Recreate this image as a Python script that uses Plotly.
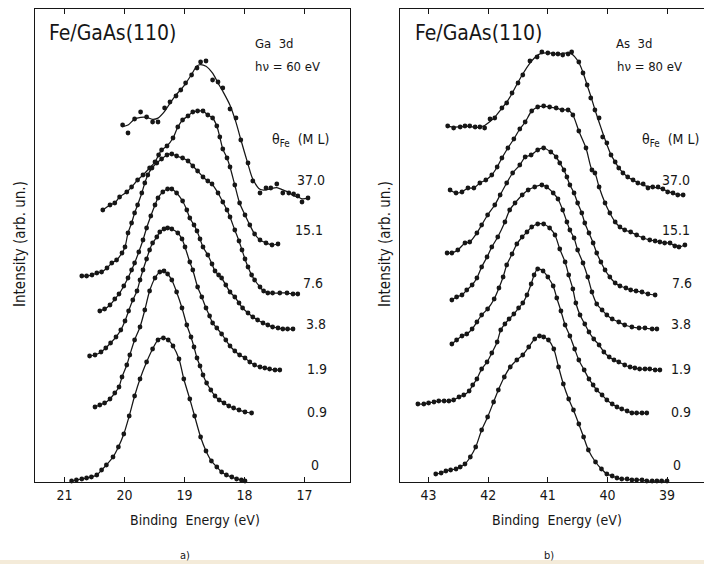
import numpy as np
import plotly.graph_objects as go

# ---------------- Panel a : Ga 3d (hv = 60 eV) ----------------
ga_e_0 = [20.88,20.80,20.71,20.63,20.55,20.46,20.38,20.30,20.19,20.10,20.01,19.92,19.83,19.74,19.63,19.53,19.44,19.35,19.27,19.19,19.09,19.01,18.91,18.83,18.73,18.64,18.55,18.46,18.38,18.30,18.21,18.13,18.05,17.99]
ga_i_0 = [1,2,3,4,5,7,12,17,25,35,48,66,86,103,120,133,142,144,142,136,123,103,83,66,45,31,21,15,10,7,5,3,2,1]

ga_e_09 = [20.49,20.41,20.33,20.24,20.16,20.09,20.04,19.96,19.91,19.83,19.74,19.66,19.58,19.49,19.41,19.34,19.28,19.21,19.13,19.04,18.96,18.89,18.84,18.79,18.74,18.69,18.63,18.56,18.49,18.42,18.34,18.26,18.18,18.09,17.99,17.88]
ga_i_09 = [75,77,79,83,89,95,105,117,127,142,155,172,191,204,210,211,208,202,190,174,157,145,135,124,116,107,99,92,86,82,79,76,74,72,70,69]

ga_e_19 = [20.58,20.49,20.39,20.31,20.23,20.14,20.06,19.99,19.93,19.86,19.79,19.74,19.69,19.63,19.58,19.53,19.46,19.41,19.34,19.28,19.21,19.11,19.04,18.99,18.91,18.86,18.78,18.71,18.64,18.58,18.53,18.46,18.38,18.31,18.24,18.16,18.08,17.99,17.91,17.83,17.74,17.66,17.58,17.49,17.41]
ga_i_19 = [126,127,130,134,139,145,152,161,171,182,191,202,212,223,232,239,245,250,253,254,253,249,243,235,220,212,195,185,174,166,159,154,148,142,136,131,127,124,120,117,115,114,113,112,112]

ga_e_38 = [20.41,20.33,20.24,20.16,20.09,20.01,19.94,19.88,19.83,19.76,19.69,19.63,19.56,19.49,19.44,19.36,19.28,19.21,19.13,19.03,18.96,18.91,18.84,18.79,18.74,18.69,18.61,18.54,18.49,18.43,18.38,18.31,18.24,18.16,18.09,18.03,17.94,17.86,17.78,17.69,17.61,17.53,17.44,17.36,17.28,17.19]
ga_i_38 = [171,173,177,183,188,196,204,212,219,230,242,254,266,277,284,290,293,293,289,281,272,264,257,251,243,235,227,218,211,207,204,197,190,185,179,174,169,165,162,159,157,155,154,153,153,153]

ga_e_76 = [20.71,20.63,20.54,20.46,20.38,20.29,20.21,20.13,20.04,19.99,19.94,19.88,19.83,19.78,19.71,19.66,19.61,19.54,19.46,19.38,19.29,19.21,19.13,19.03,18.94,18.86,18.78,18.69,18.61,18.54,18.44,18.36,18.29,18.24,18.16,18.09,18.04,17.99,17.94,17.88,17.83,17.74,17.68,17.61,17.53,17.41,17.29,17.19,17.11]
ga_i_76 = [206,206,207,209,210,214,219,222,229,235,249,259,269,277,289,299,307,314,319,323,327,328,326,324,321,316,311,305,301,298,289,280,272,265,252,241,232,223,215,207,202,195,191,189,189,189,189,188,188]

ga_e_151 = [20.36,20.24,20.16,20.08,19.96,19.88,19.78,19.69,19.58,19.49,19.43,19.38,19.29,19.19,19.11,19.03,18.94,18.86,18.78,18.69,18.61,18.53,18.46,18.41,18.36,18.29,18.24,18.16,18.08,17.99,17.91,17.83,17.74,17.64,17.54,17.44]
ga_i_151 = [272,277,279,285,290,295,302,307,314,320,327,332,336,344,355,362,366,370,371,371,367,364,356,345,333,324,315,297,279,267,257,248,242,239,237,238]

ga_e_370 = [20.03,19.94,19.83,19.73,19.63,19.53,19.44,19.33,19.24,19.14,19.06,18.98,18.88,18.79,18.73,18.64,18.53,18.44,18.36,18.24,18.14,18.06,17.94,17.86,17.74,17.64,17.56,17.46,17.36,17.26,17.18,17.11,17.04,16.94]
ga_i_370 = [357,349,363,370,365,360,360,374,380,386,392,399,407,414,420,421,402,400,394,373,364,342,319,301,289,294,294,298,289,289,288,286,280,284]

# ---------------- Panel b : As 3d (hv = 80 eV) ----------------
as_e_0 = [42.88,42.79,42.71,42.63,42.54,42.47,42.39,42.30,42.21,42.11,42.01,41.91,41.83,41.73,41.63,41.52,41.42,41.32,41.22,41.14,41.07,40.99,40.90,40.82,40.74,40.65,40.57,40.48,40.40,40.32,40.20,40.10,40.01,39.92,39.84,39.76,39.67,39.59,39.51,39.42,39.34,39.25,39.17,39.09,39.00]
as_i_0 = [8,9,11,12,13,15,18,25,35,52,65,80,92,105,115,122,127,135,143,146,145,142,133,115,98,83,72,58,45,32,20,13,8,6,4,3,3,2,2,2,1,1,1,1,1]

as_e_09 = [43.18,43.08,43.00,42.91,42.83,42.74,42.66,42.58,42.49,42.41,42.32,42.26,42.19,42.11,42.02,41.94,41.85,41.79,41.72,41.65,41.57,41.49,41.42,41.35,41.28,41.23,41.17,41.08,41.00,40.91,40.85,40.78,40.71,40.63,40.55,40.48,40.39,40.31,40.24,40.18,40.09,40.01,39.92,39.84,39.76,39.67,39.59,39.51,39.42,39.34]
as_i_09 = [78,78,79,80,81,81,81,82,85,87,91,97,103,113,120,129,140,152,158,163,168,174,179,187,198,207,213,211,205,196,184,171,157,146,133,122,112,103,97,92,87,82,78,75,73,71,69,69,69,69]

as_e_19 = [42.61,42.53,42.44,42.36,42.27,42.19,42.11,42.01,41.90,41.82,41.75,41.69,41.60,41.52,41.43,41.35,41.27,41.17,41.07,40.97,40.88,40.80,40.71,40.65,40.58,40.53,40.46,40.38,40.31,40.23,40.14,40.06,39.97,39.89,39.81,39.71,39.62,39.54,39.46,39.37,39.29,39.20,39.12]
as_i_19 = [138,142,146,148,153,160,167,173,183,194,205,217,228,238,245,250,255,258,258,254,247,233,220,207,193,179,167,158,150,143,137,130,125,122,120,117,115,114,113,113,113,112,112]

as_e_38 = [42.61,42.53,42.44,42.36,42.27,42.19,42.11,42.02,41.94,41.84,41.72,41.64,41.55,41.43,41.33,41.22,41.10,41.02,40.91,40.83,40.75,40.68,40.63,40.56,40.50,40.41,40.33,40.26,40.18,40.09,40.01,39.92,39.81,39.71,39.59,39.47,39.37,39.25,39.17]
as_i_38 = [182,185,187,192,197,204,215,225,235,245,260,272,279,287,292,295,297,295,289,283,272,260,252,244,232,219,205,190,178,172,167,163,160,157,155,154,154,153,153]

as_e_76 = [42.69,42.61,42.51,42.39,42.31,42.19,42.11,42.01,41.89,41.80,41.69,41.59,41.47,41.38,41.28,41.17,41.07,40.95,40.86,40.80,40.73,40.68,40.63,40.56,40.50,40.43,40.38,40.31,40.24,40.18,40.11,40.04,39.96,39.87,39.79,39.69,39.61,39.52,39.42,39.32,39.20]
as_i_76 = [229,229,232,239,240,249,257,267,277,287,299,309,317,325,327,332,334,330,325,319,312,305,297,289,279,269,259,249,239,229,220,212,205,199,196,194,192,191,190,188,187]

as_e_151 = [42.64,42.54,42.44,42.34,42.24,42.14,42.04,41.94,41.85,41.77,41.67,41.57,41.47,41.38,41.27,41.17,41.07,40.97,40.86,40.76,40.66,40.58,40.48,40.36,40.26,40.21,40.14,40.04,39.96,39.87,39.79,39.71,39.61,39.51,39.40,39.29,39.20,39.12,39.04,38.95,38.87,38.80,38.70]
as_i_151 = [292,289,290,294,294,299,302,307,315,324,334,343,353,360,371,375,376,375,374,372,372,367,351,334,312,309,295,279,269,260,255,252,250,247,244,242,241,240,239,239,236,235,237]

as_e_370 = [42.68,42.58,42.47,42.39,42.31,42.22,42.14,42.06,41.97,41.89,41.77,41.69,41.60,41.50,41.42,41.30,41.18,41.10,41.00,40.91,40.83,40.75,40.66,40.60,40.48,40.41,40.34,40.28,40.21,40.14,40.08,40.01,39.94,39.87,39.81,39.74,39.66,39.57,39.49,39.40,39.32,39.24,39.15,39.07,38.99,38.90,38.82,38.73]
as_i_370 = [356,354,355,356,356,355,355,354,363,364,374,379,389,399,407,421,425,430,429,428,428,427,428,430,420,409,397,384,372,364,345,339,327,320,314,309,305,302,299,298,294,295,295,293,290,289,287,287]

coverage_labels = ["0", "0.9", "1.9", "3.8", "7.6", "15.1", "37.0"]
ga_ticks = [21, 20, 19, 18, 17]
as_ticks = [43, 42, 41, 40, 39]

ga_curves = [(ga_e_0, ga_i_0), (ga_e_09, ga_i_09), (ga_e_19, ga_i_19), (ga_e_38, ga_i_38),
             (ga_e_76, ga_i_76), (ga_e_151, ga_i_151), (ga_e_370, ga_i_370)]
as_curves = [(as_e_0, as_i_0), (as_e_09, as_i_09), (as_e_19, as_i_19), (as_e_38, as_i_38),
             (as_e_76, as_i_76), (as_e_151, as_i_151), (as_e_370, as_i_370)]

W, H = 704, 564
INK = "#161616"
FONT = "DejaVu Sans Condensed, Liberation Sans Narrow, DejaVu Sans, sans-serif"


def smooth(e, i, w=5, order=2):
    """Local polynomial (Savitzky-Golay style) fit used for the drawn curves."""
    e = np.asarray(e, float)
    i = np.asarray(i, float)
    n = len(i)
    h = w // 2
    out = np.empty(n)
    for k in range(n):
        lo, hi = max(0, k - h), min(n, k + h + 1)
        deg = min(order, hi - lo - 1)
        c = np.polyfit(e[lo:hi] - e[k], i[lo:hi], deg)
        out[k] = c[-1]
    return out


fig = go.Figure()

for axis_id, curves in (("", ga_curves), ("2", as_curves)):
    for idx, (e, i) in enumerate(curves):
        n = min(len(e), len(i))
        e, i = e[:n], i[:n]
        noisy = (idx == 6)
        fit = smooth(e, i, w=7 if noisy else 3, order=2)
        fig.add_trace(go.Scatter(
            x=e, y=fit, mode="lines", xaxis="x" + axis_id, yaxis="y" + axis_id,
            line=dict(color=INK, width=1.25, shape="spline", smoothing=0.8),
            hoverinfo="skip", showlegend=False, cliponaxis=False))
        fig.add_trace(go.Scatter(
            x=e, y=i, mode="markers", xaxis="x" + axis_id, yaxis="y" + axis_id,
            marker=dict(color=INK, size=4.8),
            name=coverage_labels[idx] + " ML", showlegend=False, cliponaxis=False))


def px(x, y):
    return x / W, 1 - y / H


ydom = [1 - 482 / H, 1 - 9 / H]
axis_common = dict(
    showline=True, linecolor=INK, linewidth=1.3, showgrid=False, zeroline=False,
    ticks="inside", ticklen=5, tickwidth=1.1, tickcolor=INK,
    tickfont=dict(family=FONT, size=14, color=INK), mirror="ticks")

# faint scan tint along the page bottom
shapes = [
    dict(type="rect", xref="paper", yref="paper", x0=0, x1=1, y0=0, y1=4 / H,
         fillcolor="#f1e6cf", line=dict(width=0), layer="below", opacity=0.8),
]

fig.update_layout(
    width=W, height=H, margin=dict(l=0, r=0, t=0, b=0),
    paper_bgcolor="white", plot_bgcolor="rgba(0,0,0,0)", showlegend=False,
    shapes=shapes,
    xaxis=dict(domain=[35 / W, 350 / W], range=[21.49, 16.24], tickvals=ga_ticks,
               anchor="y", **axis_common),
    yaxis=dict(domain=ydom, range=[0, 473], showticklabels=False, showline=True,
               linecolor=INK, linewidth=1.3, mirror=True, ticks="", showgrid=False,
               zeroline=False, anchor="x"),
    xaxis2=dict(domain=[400 / W, 1.0], range=[43.48, 38.38], tickvals=as_ticks,
                anchor="y2", **axis_common),
    yaxis2=dict(domain=ydom, range=[0, 473], showticklabels=False, showline=True,
                linecolor=INK, linewidth=1.3, mirror=False, ticks="", showgrid=False,
                zeroline=False, anchor="x2"),
)

ann = []


def text(x, y, s, size=13, xanchor="center", angle=0):
    ax, ay = px(x, y)
    ann.append(dict(x=ax, y=ay, xref="paper", yref="paper", text=s, showarrow=False,
                    xanchor=xanchor, yanchor="middle", textangle=angle,
                    font=dict(family=FONT, size=size, color=INK)))


# titles
text(47, 33, "Fe/GaAs(110)", size=21, xanchor="left")
text(413, 33, "Fe/GaAs(110)", size=21, xanchor="left")
text(253, 43, "Ga  3d", size=13, xanchor="left")
text(253, 67, "hν = 60 eV", size=13, xanchor="left")
text(614, 43, "As  3d", size=13, xanchor="left")
text(615, 67, "hν = 80 eV", size=13, xanchor="left")
text(270, 140, "θ<sub>Fe</sub>  (M L)", size=14, xanchor="left")
text(640, 140, "θ<sub>Fe</sub>  (M L)", size=14, xanchor="left")

# coverage labels
ga_lab_x = [315, 317, 317, 316, 313, 309, 311]
as_lab_x = [677, 681, 681, 681, 682, 676, 676]
lab_y = [465, 412, 369, 324, 283, 230, 180]
for k, lab in enumerate(coverage_labels):
    text(ga_lab_x[k], lab_y[k], lab, size=14)
    text(as_lab_x[k], lab_y[k], lab, size=14)

# axis titles
text(195, 520, "Binding  Energy (eV)", size=14)
text(557, 520, "Binding  Energy (eV)", size=14)
text(20, 244, "Intensity (arb. un.)", size=15, angle=-90)
text(385, 244, "Intensity (arb. un.)", size=15, angle=-90)
text(185, 555, "a)", size=11)
text(549, 555, "b)", size=11)

fig.update_layout(annotations=ann)
fig.write_html("out.html", config={"displayModeBar": False},
               post_script="document.body.style.margin='0';document.body.style.overflow='hidden';")
